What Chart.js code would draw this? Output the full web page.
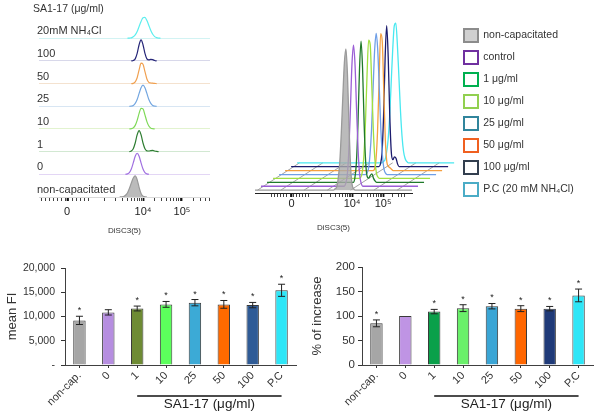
<!DOCTYPE html>
<html>
<head>
<meta charset="utf-8">
<script src="https://cdn.jsdelivr.net/npm/chart.js@4.4.1/dist/chart.umd.min.js"></script>
<style>
body { margin: 0; background: #fff; width: 606px; height: 419px; overflow: hidden; position: relative; }
canvas { position: absolute; }
</style>
</head>
<body>
<canvas id="hist" width="187" height="236" style="left:33px;top:0"></canvas>
<canvas id="overlay" width="235" height="236" style="left:225px;top:-3px"></canvas>
<canvas id="key" width="151" height="200" style="left:455px;top:20px"></canvas>
<canvas id="fi" width="300" height="164" style="left:0;top:255px"></canvas>
<canvas id="pct" width="306" height="164" style="left:300px;top:255px"></canvas>
<script>
Chart.defaults.font.family = '"Liberation Sans", Arial, sans-serif';
Chart.defaults.color = '#333';

// histogram channels (display decades) and mode-normalised counts
const bins = [3.40, 3.45, 3.50, 3.55, 3.60, 3.65, 3.70, 3.75, 3.80, 3.85, 3.90, 3.95, 4.00, 4.05, 4.10, 4.15, 4.20, 4.25, 4.30, 4.35, 4.40, 4.45, 4.50];
const histNonCap = [0, 1, 2, 8, 19, 40, 66, 90, 100, 82, 46, 17, 4, 1, 0, 0, 0, 0, 0, 0, 0, 0, 0];
const histCtrl   = [0, 0, 0, 0, 2, 8, 25, 54, 86, 100, 86, 54, 25, 8, 2, 0, 0, 0, 0, 0, 0, 0, 0];
const hist1      = [0, 0, 0, 0, 0, 0, 3, 14, 41, 80, 100, 80, 41, 14, 4, 3, 5, 6, 3, 1, 0, 0, 0];
const hist10     = [0, 0, 0, 0, 0, 0, 1, 5, 17, 41, 74, 98, 95, 67, 35, 14, 4, 1, 0, 0, 0, 0, 0];
const hist25     = [0, 0, 0, 0, 0, 0, 1, 4, 14, 32, 61, 88, 100, 88, 61, 32, 14, 4, 1, 0, 0, 0, 0];
const hist50     = [0, 0, 0, 0, 0, 0, 0, 1, 8, 28, 65, 97, 92, 57, 22, 6, 3, 2, 1, 0, 0, 0, 0];
const hist100    = [0, 0, 0, 0, 0, 0, 0, 2, 10, 36, 77, 100, 77, 36, 10, 5, 7, 6, 2, 0, 0, 0, 0];
const histPC     = [0, 0, 0, 0, 0, 1, 2, 7, 16, 32, 56, 80, 97, 99, 84, 61, 37, 19, 8, 3, 1, 0, 0];
const histAll = [histNonCap, histCtrl, hist1, hist10, hist25, hist50, hist100, histPC];

const rowLabels = ['non-capacitated', '0', '1', '10', '25', '50', '100', '20mM NH₄Cl'];
const histColors = ['#9a9a9a', '#a070e0', '#2e7d32', '#7ed957', '#73a6e0', '#f0a050', '#262678', '#5ceeee'];
const depthColors = ['#9a9a9a', '#9b5fd6', '#1f7a2a', '#a0e040', '#6f9fe6', '#f5a040', '#1c1c6e', '#48e8f0'];
const rowLineColors = ['#d9d9d9', '#e3d6f5', '#d2e8d2', '#e2f3cf', '#d8e6f3', '#f4e2cf', '#d8d8ea', '#d2f3f3'];

// fluorescence axis ticks
const axisTicks = [1.4, 1.5, 1.6, 1.7, 1.8, 1.9, 2.0, 2.05, 2.1, 2.2, 2.3, 2.4, 2.5, 2.6, 3.0, 3.3, 3.48, 3.6, 3.7, 3.78, 3.85, 3.9, 3.95, 4, 4.3, 4.48, 4.6, 4.7, 4.78, 4.85, 4.9, 4.95, 5, 5.3, 5.48, 5.6, 5.7];
const axisLabelAt = [2.05, 4, 5];
const axisLabelText = ['0', '10⁴', '10⁵'];
const floorGridAt = [0.95, 1.7, 2.45, 3.2, 3.95, 4.7, 5.45];

const keyLabels = ['non-capacitated', 'control', '1 μg/ml', '10 μg/ml', '25 μg/ml', '50 μg/ml', '100 μg/ml', 'P.C (20 mM NH₄Cl)'];
const keyStroke = ['#8c8c8c', '#7030a0', '#00b050', '#92d050', '#31859c', '#f06020', '#333f4f', '#4bacc6'];
const keyFill = ['#d0d0d0', '#fff', '#fff', '#fff', '#fff', '#fff', '#fff', '#fff'];

const barCats = ['non-cap.', '0', '1', '10', '25', '50', '100', 'P.C'];
const fiMean = [9200, 10850, 11650, 12500, 12850, 12500, 12350, 15400];
const fiErr = [850, 550, 500, 600, 650, 800, 550, 1250];
const pctMean = [85, 100, 109, 116, 120, 115, 115, 142];
const pctErr = [7, 0, 4.5, 7, 5.5, 6, 4.5, 13];
const sigMarks = ['*', '', '*', '*', '*', '*', '*', '*'];
const fiColors = ['#a6a6a6', '#b68ee0', '#6e8b34', '#5cff5c', '#3caad6', '#ff6a00', '#2f5b96', '#2ee6f7'];
const pctColors = ['#a6a6a6', '#bf94e4', '#0aa04a', '#6af06a', '#3aa5d5', '#ff6600', '#1f3a78', '#2ee6f7'];

function trimmed(counts) {
  const nz = counts.map((c, j) => c > 0 ? j : -1).filter(j => j >= 0);
  const a = Math.max(0, nz[0] - 1), b = Math.min(counts.length - 1, nz[nz.length - 1] + 1);
  return bins.slice(a, b + 1).map((x, k) => [x, counts[a + k]]);
}

function flowAxis(extra, pad) {
  return Object.assign({
    type: 'linear',
    bounds: 'data',
    afterBuildTicks: a => { a.ticks = axisTicks.map(v => ({value: v})); },
    ticks: {
      autoSkip: false, maxRotation: 0, padding: pad, font: {size: 11}, color: '#222',
      callback: v => { const k = axisLabelAt.indexOf(v); return k < 0 ? '' : axisLabelText[k]; }
    },
    grid: {
      drawOnChartArea: false, tickLength: 4, tickColor: '#111',
      tickWidth: c => (c.tick && axisLabelAt.includes(c.tick.value)) ? 1.8 : 0.8
    },
    title: {display: true, text: 'DiSC3(5)', font: {size: 8}, padding: {top: 4, bottom: 0}}
  }, extra);
}

const base = {responsive: false, devicePixelRatio: 1, animation: false};

// stacked histograms
const rowScale = 0.0093;
new Chart(document.getElementById('hist'), {
  type: 'scatter',
  data: {
    datasets: histAll.map((h, r) => ({
      data: trimmed(h).map(([x, c]) => ({x: x, y: r + c * rowScale})),
      showLine: true, pointRadius: 0, borderWidth: 1.2,
      borderColor: histColors[r],
      backgroundColor: r === 0 ? 'rgba(175,175,175,0.85)' : 'transparent',
      fill: r === 0 ? {value: 0} : false,
      cubicInterpolationMode: 'monotone'
    }))
  },
  options: Object.assign({}, base, {
    layout: {padding: {right: 10}},
    plugins: {
      legend: {display: false}, tooltip: {enabled: false},
      title: {display: true, text: 'SA1-17 (μg/ml)', align: 'start', color: '#333',
        font: {size: 10.5, weight: 'normal'}, padding: {top: 3, bottom: 0}}
    },
    scales: {
      x: flowAxis({min: 1.33, max: 5.72, border: {display: false}, afterFit: a => { a.height = 39; }}, 4),
      y: {
        min: 0, max: 8,
        afterBuildTicks: a => { a.ticks = rowLabels.map((_, i) => ({value: i})); },
        afterFit: a => { a.width = 6; },
        ticks: {mirror: true, padding: -2, labelOffset: -7, font: {size: 11}, color: '#333', callback: v => rowLabels[v]},
        grid: {color: c => rowLineColors[c.index] || '#ddd', drawTicks: false},
        border: {display: false}
      }
    }
  })
});

// offset overlay (pseudo 3D)
const dx = 0.194, dy = 2.77, floorFrom = 0.87, floorTo = 5.93, depth = histAll.length - 1;
new Chart(document.getElementById('overlay'), {
  type: 'scatter',
  data: {
    datasets: histAll.map((h, r) => ({
      data: [{x: floorFrom + r * dx, y: r * dy}]
        .concat(bins.map((b, j) => ({x: b + r * dx, y: h[j] + r * dy})))
        .concat([{x: floorTo + r * dx, y: r * dy}]),
      showLine: true, pointRadius: 0, borderWidth: 1.3, clip: false,
      borderColor: depthColors[r],
      backgroundColor: r === 0 ? 'rgba(170,170,170,0.8)' : 'transparent',
      fill: r === 0 ? {value: 0} : false,
      cubicInterpolationMode: 'monotone'
    })).concat(floorGridAt.map(g => ({
      data: [{x: g, y: 0}, {x: g + depth * dx, y: depth * dy}],
      showLine: true, pointRadius: 0, borderWidth: 0.8, borderColor: '#8a8a8a', clip: false
    })))
  },
  options: Object.assign({}, base, {
    layout: {padding: {left: 30, right: 48, top: 52}},
    plugins: {legend: {display: false}, tooltip: {enabled: false}},
    scales: {
      x: flowAxis({
        afterDataLimits: a => { a.min = floorFrom; a.max = floorTo; },
        afterFit: a => { a.height = 40; },
        border: {display: true, color: '#222'}
      }, 0),
      y: {display: false, min: -2, max: 100}
    }
  })
});

// legend
new Chart(document.getElementById('key'), {
  type: 'scatter',
  data: {
    datasets: keyLabels.map((l, i) => ({label: l, data: [], backgroundColor: keyFill[i], borderColor: keyStroke[i], borderWidth: 2}))
  },
  options: Object.assign({}, base, {
    scales: {x: {display: false}, y: {display: false}},
    plugins: {
      tooltip: {enabled: false},
      legend: {position: 'left', align: 'start', maxWidth: 151,
        labels: {boxWidth: 14, boxHeight: 13, padding: 9, font: {size: 10.5}, color: '#333'}}
    }
  })
});

// error bars + significance marks
const errBars = {
  id: 'errBars',
  afterDatasetsDraw(chart, args, o) {
    const {ctx} = chart, ys = chart.scales.y, vals = chart.data.datasets[0].data;
    ctx.save();
    ctx.strokeStyle = '#222'; ctx.fillStyle = '#222'; ctx.lineWidth = 1;
    ctx.font = '9px "Liberation Sans", Arial, sans-serif';
    ctx.textAlign = 'center'; ctx.textBaseline = 'bottom';
    chart.getDatasetMeta(0).data.forEach((bar, i) => {
      const e = o.errors[i], x = bar.x;
      const top = ys.getPixelForValue(vals[i] + e), bot = ys.getPixelForValue(vals[i] - e);
      if (e > 0) {
        ctx.beginPath();
        ctx.moveTo(x, top); ctx.lineTo(x, bot);
        ctx.moveTo(x - 3.5, top); ctx.lineTo(x + 3.5, top);
        ctx.moveTo(x - 3.5, bot); ctx.lineTo(x + 3.5, bot);
        ctx.stroke();
      }
      if (o.marks[i]) ctx.fillText(o.marks[i], x, top - 1);
    });
    ctx.restore();
  }
};

// group bracket under the concentration labels
const bracket = {
  id: 'bracket',
  afterDraw(chart, args, o) {
    const {ctx} = chart, xs = chart.scales.x;
    const x1 = xs.getPixelForValue(barCats.indexOf(o.from));
    const x2 = xs.getPixelForValue(barCats.indexOf(o.to));
    const y = chart.chartArea.bottom + o.offset;
    ctx.save();
    ctx.strokeStyle = '#111'; ctx.lineWidth = 1.6;
    ctx.beginPath(); ctx.moveTo(x1, y); ctx.lineTo(x2, y); ctx.stroke();
    ctx.fillStyle = '#222';
    ctx.font = '13.5px "Liberation Sans", Arial, sans-serif';
    ctx.textAlign = 'center'; ctx.textBaseline = 'top';
    ctx.fillText(o.text, (x1 + x2) / 2, y + 2);
    ctx.restore();
  }
};

function barChart(id, values, errors, colors, yOpts, yTitle, pad, titlePad) {
  return new Chart(document.getElementById(id), {
    type: 'bar',
    data: {
      labels: barCats,
      datasets: [{data: values, backgroundColor: colors, borderColor: '#3a3a3a', borderWidth: 1,
        barPercentage: 0.43, categoryPercentage: 1}]
    },
    plugins: [errBars, bracket],
    options: Object.assign({}, base, {
      layout: {padding: pad},
      plugins: {
        legend: {display: false}, tooltip: {enabled: false},
        errBars: {errors: errors, marks: sigMarks},
        bracket: {from: '1', to: 'P.C', text: 'SA1-17 (μg/ml)', offset: 31}
      },
      scales: {
        x: {
          grid: {drawOnChartArea: false, offset: false, tickLength: 3, tickColor: '#333'},
          border: {color: '#404040'},
          ticks: {maxRotation: 45, minRotation: 45, padding: 1, font: {size: 11}, color: '#333'},
          afterFit: a => { a.height = 54; }
        },
        y: Object.assign({
          grid: {drawOnChartArea: false, tickLength: 4, tickColor: '#333'},
          border: {color: '#404040'},
          title: {display: true, text: yTitle, font: {size: 13}, color: '#333', padding: {top: titlePad, bottom: 0}}
        }, yOpts)
      }
    })
  });
}

barChart('fi', fiMean, fiErr, fiColors, {
  min: 0, max: 20000,
  ticks: {stepSize: 5000, padding: 6, font: {size: 10.5}, color: '#333',
    callback: v => v === 0 ? '-' : v.toLocaleString('en-US')},
  afterFit: a => { a.width = 65; }
}, 'mean FI', {top: 13, right: 4}, 5);

barChart('pct', pctMean, pctErr, pctColors, {
  min: 0, max: 200,
  ticks: {stepSize: 50, padding: 3, font: {size: 11.5}, color: '#333'},
  afterFit: a => { a.width = 62; }
}, '% of increase', {top: 12, right: 13}, 10);
</script>
</body>
</html>
